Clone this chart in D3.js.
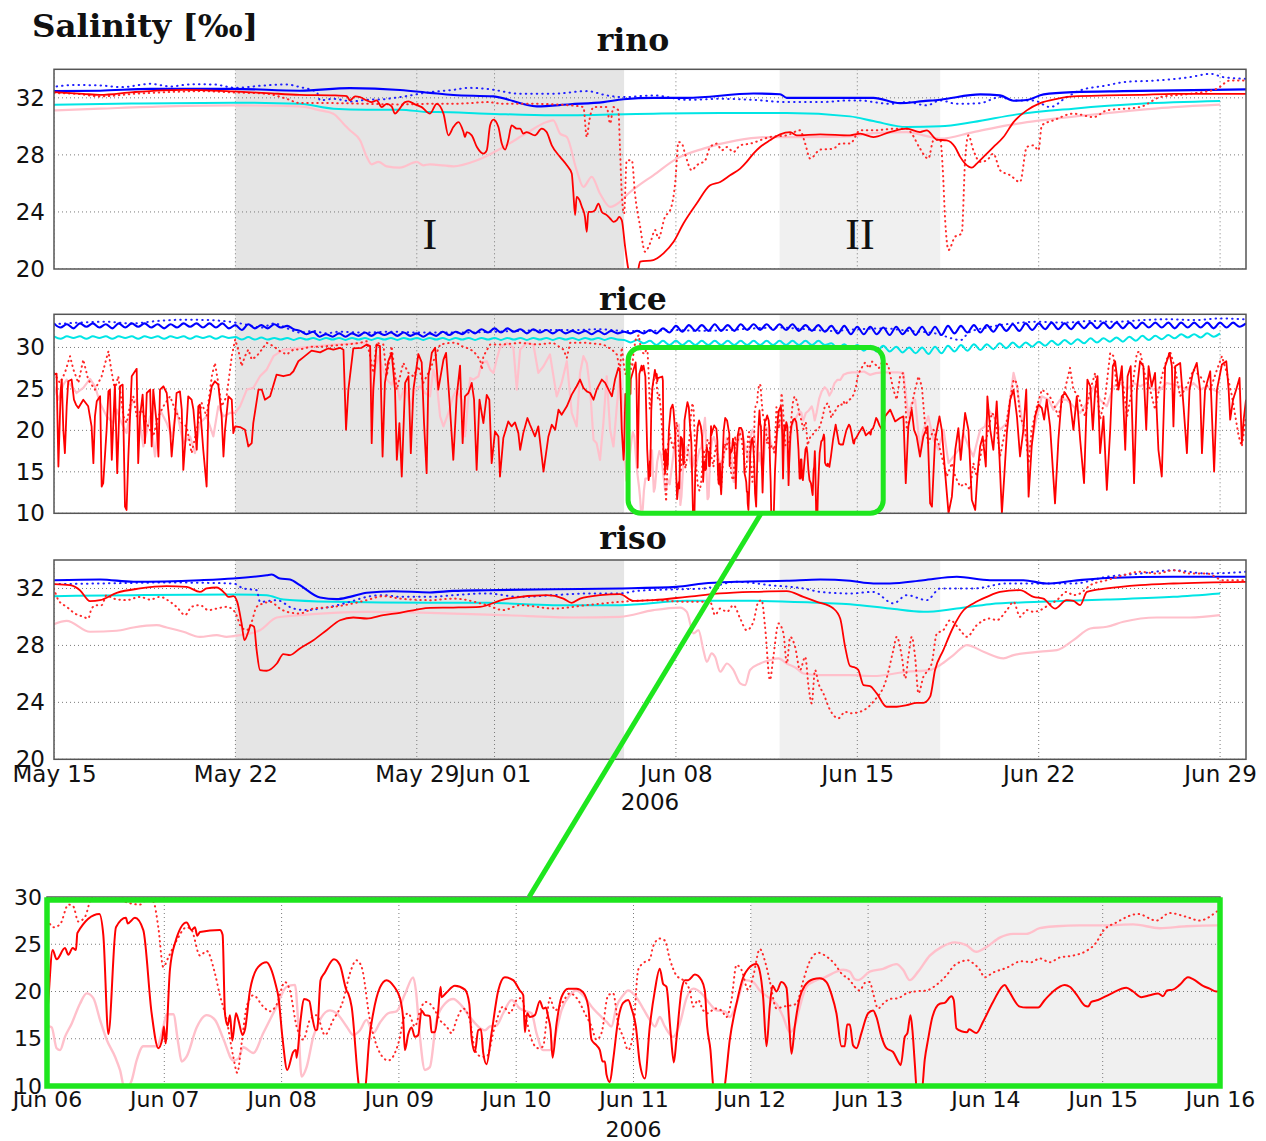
<!DOCTYPE html>
<html><head><meta charset="utf-8">
<script src="https://cdn.jsdelivr.net/npm/d3@7"></script>
<style>body{margin:0;background:#fff}svg{display:block}</style>
</head><body>
<svg id="c" width="1266" height="1141"></svg>
<script>
// ---------------- DATA (t = days since 2006-05-15 00:00 UTC) ----------------
const salTicks = [20,24,28,32];
const riceTicks = [10,15,20,25,30];
const insetTicks = [10,15,20,25,30];
const mainTickDays = [0,7,14,17,24,31,38,45];
const insetTickDays = [22,23,24,25,26,27,28,29,30,31,32];
const regionStart = [7,28];
const regionEnd = [22,34.2];
const regionLabels = ["I","II"];
const zoomT = [22,32];
const zoomV = [10,30];
const connTop = [27.29,10];
const connBottom = [26.11,30];

// rino
const rinoBlue=[[0,32.47],[1.78,32.5],[3.71,32.63],[6.92,32.63],[9.49,32.5],[11.42,32.68],[13.35,32.55],[14.51,32.35],[15.41,32.2],[16.96,32.1],[18.63,31.4],[19.92,31.55],[21.2,31.7],[21.97,31.9],[23.13,32.0],[24.42,32.0],[26.99,32.3],[28.02,32.25],[28.28,32.0],[30.72,32.0],[31.62,32.0],[32.65,31.63],[33.55,31.77],[34.2,31.87],[35.74,32.24],[36.51,32.17],[37.03,31.8],[37.54,31.85],[38.19,32.24],[39.34,32.4],[41.27,32.47],[43.2,32.52],[46,32.59]];
const rinoBlueDot=[[0.1,32.8],[0.8,32.9],[1.78,32.87],[2.6,32.75],[3.71,32.98],[4.5,32.8],[5.3,32.95],[6.15,32.94],[7.0,32.7],[8.0,32.85],[8.98,32.94],[9.49,32.75],[10.14,32.4],[10.27,31.82],[10.78,31.93],[11.5,31.75],[12.07,31.86],[12.7,31.9],[13.35,32.05],[14.51,32.4],[15.41,32.56],[16.0,32.7],[16.7,32.63],[17.99,32.29],[19.27,32.29],[20.56,32.47],[21.33,32.17],[21.97,32.05],[23.13,32.17],[24.42,31.86],[25.71,31.93],[26.99,31.86],[28.28,31.7],[29.57,31.7],[30.72,31.82],[31.11,31.82],[31.62,31.7],[32.26,31.58],[32.91,31.7],[33.68,31.47],[34.2,31.82],[34.84,31.58],[35.74,31.63],[36.51,32.05],[37.03,31.82],[37.8,31.82],[38.44,31.35],[39.08,32.05],[39.6,32.52],[40.63,32.87],[41.27,33.1],[42.56,33.22],[43.84,33.45],[44.62,33.68],[45.13,33.45],[46,33.33]];
const rinoCyan=[[0,31.52],[3,31.6],[6.92,31.66],[9.49,31.58],[10.78,31.24],[12.07,31.17],[13.35,31.17],[14.51,31.0],[14.77,31.0],[16.7,30.89],[19.27,30.77],[23.13,30.89],[25.71,30.93],[28.28,30.93],[30.72,30.7],[31.62,30.37],[32.91,29.95],[34.2,30.0],[35.48,30.3],[37.16,30.84],[39.34,31.24],[41.91,31.58],[45.0,31.77]];
const rinoRed=[[0,32.4],[1.13,32.28],[1.78,32.21],[3.06,32.4],[4.99,32.56],[6.92,32.45],[8.21,32.33],[9.49,32.21],[10.78,32.17],[11.3,32.12],[11.42,31.82],[11.62,32.1],[11.81,32.05],[12.07,31.82],[12.26,31.7],[12.45,31.82],[12.65,31.35],[12.84,31.58],[13.03,31.4],[13.16,30.89],[13.29,31.12],[13.55,31.7],[13.68,31.75],[13.93,31.54],[14.19,31.35],[14.51,30.89],[14.77,31.58],[15.03,30.89],[15.22,29.37],[15.41,29.95],[15.61,30.3],[15.8,29.6],[15.86,29.25],[15.93,29.6],[16.12,29.37],[16.32,28.55],[16.57,28.09],[16.7,28.32],[16.83,30.07],[16.96,30.47],[17.15,29.95],[17.28,28.79],[17.41,28.37],[17.53,29.02],[17.66,30.07],[17.86,29.84],[17.99,29.84],[18.11,29.49],[18.24,29.6],[18.56,29.37],[18.82,29.84],[19.01,29.6],[19.21,28.67],[19.53,27.86],[19.79,27.27],[19.98,26.69],[20.04,25.41],[20.11,23.78],[20.17,25.06],[20.28,24.83],[20.37,24.36],[20.49,23.66],[20.56,22.61],[20.62,24.0],[20.75,24.0],[20.88,24.13],[21.01,24.59],[21.14,24.0],[21.33,23.78],[21.46,23.54],[21.59,23.31],[21.72,23.43],[21.81,23.66],[21.91,23.43],[22.04,21.56],[22.17,19.93],[22.3,19.3],[22.5,19.6],[22.62,20.51],[23.13,20.63],[23.52,21.1],[23.91,21.91],[24.29,23.19],[24.8,24.59],[25.32,25.87],[25.71,26.1],[26.09,26.57],[26.48,27.04],[26.73,27.51],[26.99,28.09],[27.25,28.55],[27.63,29.02],[28.02,29.44],[28.41,29.6],[28.66,29.37],[29.57,29.44],[30.72,29.37],[31.11,29.49],[31.62,29.25],[32.26,29.6],[32.91,29.84],[33.42,29.6],[33.68,29.72],[34.07,29.07],[34.45,29.02],[34.77,28.55],[34.97,27.86],[35.16,27.39],[35.42,27.11],[35.61,27.39],[35.87,27.86],[36.25,28.55],[36.64,29.25],[37.03,30.3],[37.54,31.12],[38.06,31.63],[38.7,31.93],[39.34,32.1],[40.63,32.17],[41.91,32.21],[43.2,32.28],[46,32.28]];
const rinoRedDot=[[0,32.33],[0.87,32.28],[1.78,32.1],[3.06,32.28],[4.35,32.4],[5.63,32.47],[6.92,32.38],[8.21,32.28],[8.98,31.93],[9.49,31.63],[10.78,31.63],[12.07,31.58],[13.35,31.54],[14.51,31.58],[15.41,31.58],[16.06,31.63],[16.7,31.7],[17.34,31.58],[17.99,31.58],[18.63,31.58],[19.27,31.54],[19.92,31.47],[20.43,31.35],[20.56,29.25],[20.66,30.42],[20.82,31.35],[21.33,31.35],[21.46,30.19],[21.59,31.35],[21.78,31.12],[21.84,28.55],[21.91,25.29],[22.0,23.89],[22.1,27.62],[22.3,27.62],[22.42,25.29],[22.62,22.96],[22.81,21.21],[23.0,21.79],[23.2,22.73],[23.32,22.14],[23.58,23.66],[23.78,24.13],[23.97,25.99],[24.1,28.9],[24.23,28.79],[24.35,28.09],[24.61,26.92],[24.8,27.27],[25.13,27.62],[25.32,28.55],[25.58,28.79],[25.77,28.32],[25.97,28.55],[26.22,28.2],[26.48,28.67],[26.87,28.79],[27.63,29.25],[28.28,29.37],[28.79,29.72],[28.99,28.79],[29.18,27.74],[29.57,28.37],[30.08,28.44],[30.34,28.79],[30.72,28.79],[31.11,29.72],[31.62,29.72],[32.52,29.84],[32.91,29.84],[33.1,29.49],[33.42,28.44],[33.74,27.74],[33.94,29.02],[34.2,29.07],[34.3,26.92],[34.39,23.43],[34.52,21.33],[34.77,22.26],[35.03,22.49],[35.16,27.62],[35.29,29.37],[35.48,28.32],[35.74,27.51],[36.0,27.62],[36.25,28.09],[36.51,26.92],[36.9,26.57],[37.28,26.1],[37.54,28.55],[37.8,28.67],[37.99,28.32],[38.12,30.07],[38.57,30.42],[39.34,30.89],[40.12,30.65],[40.63,31.12],[41.91,31.35],[42.69,32.05],[43.84,32.28],[44.87,32.63],[45.39,33.22],[46,33.22]];
const rinoPink=[[0,31.12],[1.78,31.24],[4.35,31.4],[6.92,31.47],[9.49,31.4],[10.27,31.12],[10.78,30.89],[11.17,30.19],[11.42,29.72],[11.81,29.02],[12.07,27.86],[12.26,27.34],[12.52,27.51],[12.84,27.2],[13.35,27.11],[14.0,27.51],[14.25,27.27],[14.51,27.34],[14.77,27.3],[15.41,27.2],[16.32,27.62],[17.34,28.55],[18.24,29.53],[19.01,30.3],[19.27,30.42],[19.53,29.49],[19.79,29.25],[20.17,26.92],[20.43,25.76],[20.75,26.46],[21.07,25.29],[21.46,24.36],[21.84,24.71],[22.1,25.18],[22.49,25.76],[23.13,26.57],[24.03,27.74],[25.06,28.44],[26.35,29.02],[27.63,29.25],[28.92,29.25],[30.72,29.3],[31.62,29.53],[32.91,29.6],[33.55,29.37],[34.2,29.14],[35.48,29.6],[36.77,30.07],[38.06,30.42],[40.63,30.93],[43.2,31.35],[45.0,31.52]];

// rice (blue/cyan sampled every 6 h from t=0)
const riceSampleStep = 0.25;
const riceBlue=[32.9,32.4,32.8,32.3, 32.9,32.5,32.9,32.4, 32.8,32.3,32.9,32.4, 32.9,32.5,32.9,32.4, 32.8,32.3,32.8,32.4, 32.9,32.5,32.9,32.4, 32.9,32.4,32.9,32.3,
 32.7,32.1,32.8,32.3, 32.7,32.3,32.8,32.4, 32.6,32.2,32.0,31.6, 31.9,31.3,31.6,31.3, 31.7,31.3,31.7,31.4, 31.8,31.4,31.8,31.5, 31.8,31.4,31.8,31.4,
 31.7,31.3,31.7,31.4, 31.9,31.5,31.9,31.6, 32.1,31.7,32.2,31.8, 32.3,31.8,32.3,31.9, 32.2,31.7,32.2,31.8, 32.1,31.7,32.1,31.7, 32.0,31.7,32.0,31.6,
 32.0,31.6,32.0,31.7, 31.9,31.7,32.0,31.7, 32.1,31.7,32.3,31.8, 32.6,31.9,32.7,32.0, 32.7,32.0,32.8,32.0, 32.7,32.0,32.8,32.1, 32.8,32.1,32.8,32.1,
 32.8,32.1,32.8,32.0, 32.7,32.0,32.7,31.9, 32.6,31.7,32.6,31.6, 32.5,31.6,32.5,31.6, 32.4,31.5,32.5,31.6, 32.4,31.5,32.5,31.5, 32.5,31.5,32.6,31.7,
 32.6,31.8,32.7,31.8, 32.7,31.9,32.8,32.0, 32.8,32.0,32.9,32.1, 32.9,32.2,33.0,32.2, 32.9,32.2,33.0,32.3, 33.0,32.3,33.0,32.3, 33.0,32.3,33.0,32.3,
 33.0,32.4,33.0,32.4, 33.0,32.3,33.0,32.4, 33.0,32.4,33.0,32.3, 33.0,32.4,33.0,32.5, 32.9];
const riceCyan=[31.35,31.05,31.35,31.15, 31.35,31.05,31.35,31.15, 31.35,31.05,31.35,31.15, 31.35,31.05,31.35,31.15, 31.35,31.05,31.35,31.15, 31.35,31.05,31.35,31.15, 31.35,31.05,31.35,31.15,
 31.25,30.95,31.25,30.95, 31.2,30.95,31.15,30.95, 31.15,30.9,31.15,30.95,
 31.15,30.9,31.15,30.95, 31.15,30.9,31.15,30.95, 31.15,30.9,31.15,30.95, 31.15,30.9,31.15,30.95, 31.15,30.9,31.15,30.95, 31.15,30.9,31.15,30.95,
 31.15,30.9,31.15,30.95, 31.15,30.9,31.15,30.95, 31.15,30.9,31.15,30.95, 31.15,30.9,31.15,30.95, 31.15,30.9,31.15,30.95, 31.15,30.9,31.15,30.95,
 30.9,30.6,30.9,30.5,
 30.8,30.3,30.8,30.3, 30.8,30.3,30.8,30.3, 30.8,30.3,30.8,30.3, 30.8,30.3,30.8,30.3, 30.8,30.3,30.8,30.3, 30.8,30.3,30.8,30.3, 30.8,30.3,30.8,30.3,
 30.5,29.9,30.4,29.8, 30.3,29.6,30.2,29.5, 30.2,29.5,30.1,29.4, 30.0,29.3,30.0,29.2, 30.1,29.3,30.2,29.5, 30.3,29.6,30.4,29.7, 30.4,29.8,30.5,29.9,
 30.6,30.0,30.6,30.1, 30.7,30.2,30.8,30.3, 30.9,30.4,31.0,30.5, 31.1,30.6,31.1,30.7, 31.2,30.7,31.3,30.8, 31.4,30.9,31.4,31.0, 31.5,31.1,31.6,31.2,
 31.6,31.2,31.7,31.3, 31.7];
const riceBlueDot=[[0,32.8],[1,33.0],[2,33.1],[3,32.9],[4,33.2],[5,33.35],[6,33.3],[7,33.0],[7.5,32.7],[8,32.4],[8.5,32.9],[9,32.3],[9.5,31.8],[10,32.0],[10.5,31.7],[11,31.9],[12,31.8],[13,31.9],[14,31.8],[15,31.8],[16,31.8],[17,31.9],[18,32.0],[19,32.1],[20,32.1],[21,32.2],[22,32.0],[23,32.0],[24,32.1],[25,32.0],[26,32.1],[27,32.3],[28,32.4],[29,32.2],[30,32.0],[31,32.2],[32,32.3],[33,32.0],[34,31.7],[35,30.9],[35.3,31.8],[36,32.4],[37,32.9],[38,33.1],[39,33.0],[40,33.2],[41,33.1],[42,33.3],[43,33.4],[44,33.3],[45,33.5],[46,33.4]];

const riceRedA=[[0,26.73],[0.10,26.85],[0.17,15.64],[0.26,24.91],[0.30,26.13],[0.36,20.07],[0.42,17.25],[0.49,22.9],[0.55,25.92],[0.68,26.13],[0.77,23.7],[0.85,23.1],[0.94,22.7],[1.13,23.7],[1.32,22.9],[1.45,20.48],[1.52,16.05],[1.58,21.69],[1.65,23.5],[1.78,24.11],[1.84,13.22],[1.90,13.63],[2.03,20.07],[2.10,24.71],[2.16,24.91],[2.23,16.45],[2.35,25.52],[2.44,14.84],[2.55,25.32],[2.65,25.52],[2.74,10.8],[2.80,10.4],[2.87,16.85],[3.00,26.53],[3.19,27.42],[3.25,16.05],[3.32,21.69],[3.42,24.31],[3.51,18.46],[3.58,24.51],[3.71,24.91],[3.77,18.06],[3.83,24.91],[3.96,20.88],[4.03,16.85],[4.09,24.91],[4.22,25.32],[4.35,24.51],[4.48,20.07],[4.54,16.85],[4.67,21.69],[4.73,24.51],[4.86,24.71],[4.93,22.5],[4.99,15.24],[5.12,20.88],[5.18,24.11],[5.31,23.7],[5.38,22.5],[5.51,17.66],[5.57,22.9],[5.63,23.1],[5.76,17.66],[5.89,13.22],[5.96,22.9],[6.09,25.32],[6.21,25.92],[6.34,25.52],[6.47,21.69],[6.54,16.85],[6.60,20.07],[6.73,24.11],[6.86,23.7],[6.92,19.67],[6.99,20.48],[7.18,20.4],[7.37,20.07],[7.50,18.06],[7.63,18.46],[7.69,20.88],[7.89,24.91],[8.02,24.91],[8.14,23.7],[8.34,24.11],[8.59,26.73],[8.85,26.53],[9.11,26.73],[9.24,27.13],[9.43,28.34],[9.62,28.81],[9.94,29.62],[10.27,29.41],[10.59,29.9],[10.78,29.73],[11.04,29.96],[11.17,29.73],[11.27,20.07],[11.36,24.91],[11.55,29.9],[11.87,29.96],[12.07,30.36],[12.20,30.16],[12.26,18.46],[12.32,24.91],[12.45,30.36],[12.58,30.16],[12.68,16.85],[12.77,25.72],[12.90,28.34],[13.03,29.35],[13.16,24.91],[13.23,16.45],[13.33,20.88],[13.42,14.43],[13.55,25.72],[13.68,26.53],[13.77,17.25],[13.87,24.91],[14.06,29.21],[14.19,28.21],[14.28,20.88],[14.38,14.84],[14.45,26.53],[14.51,27.82],
[14.58,29.35],[14.71,29.96],[14.83,24.91],[15.03,28.54],[15.13,29.35],[15.26,23.7],[15.41,16.45],[15.54,24.11],[15.67,27.82],[15.77,18.46],[15.86,24.11],[15.99,24.51],[16.12,25.72],[16.21,23.7],[16.31,15.24],[16.42,23.7],[16.57,20.88],[16.7,24.27],[16.8,23.7],[16.89,16.05],[17.02,19.87],[17.15,19.27],[17.21,14.43],[17.34,19.07],[17.53,21.08],[17.66,20.48],[17.79,20.97],[17.92,19.67],[17.99,17.66],[18.11,19.67],[18.27,21.49],[18.37,20.68],[18.56,19.27],[18.69,20.48],[18.89,15.04],[19.08,19.27],[19.21,20.68],[19.34,20.07],[19.47,22.5],[19.59,21.89],[19.79,22.9],[19.98,24.31],[20.17,25.32],[20.3,26.13],[20.43,25.12],[20.56,24.71],[20.69,24.51],[20.82,23.7],[20.94,24.91],[21.14,26.13],[21.27,25.72],[21.4,24.91],[21.53,24.11],[21.65,26.13],[21.78,27.54],[21.84,27.13],[21.91,20.07],[21.98,16.45]];
const riceRedZoom=[[22.0,17.5],[22.048,24.4],[22.082,23.4],[22.153,24.6],[22.182,23.9],[22.219,24.6],[22.247,24.4],[22.259,26.2],[22.446,28.2],[22.48,26],[22.523,15.5],[22.588,26.8],[22.673,27.8],[22.688,27.2],[22.75,27.8],[22.821,26.5],[22.892,17.7],[22.949,14.0],[22.983,15.0],[22.997,16.3],[23.011,14.5],[23.048,22.3],[23.091,25.1],[23.19,27.3],[23.233,26.5],[23.261,26.8],[23.281,25.9],[23.304,26.3],[23.474,26.5],[23.497,26.0],[23.517,17.7],[23.54,16.4],[23.56,17.5],[23.58,14.8],[23.611,17.7],[23.631,17.0],[23.668,15.4],[23.688,16.0],[23.73,20.1],[23.801,22.6],[23.872,23.1],[23.906,22.5],[23.952,20.6],[23.972,19.5],[24.009,14.9],[24.048,11.7],[24.099,13.6],[24.122,13.8],[24.128,13.0],[24.162,17.0],[24.19,19.2],[24.236,19.0],[24.261,17.3],[24.29,15.9],[24.304,16.0],[24.332,21.2],[24.369,22.0],[24.446,23.4],[24.497,22.8],[24.554,20.1],[24.568,19.8],[24.597,18.4],[24.659,10.0],[24.688,8.5],[24.716,10.0],[24.747,14.9],[24.781,17.7],[24.838,20.4],[24.895,21.2],[24.96,20.5],[25.009,19.3],[25.037,17.0],[25.051,13.8],[25.08,15.5],[25.108,16.2],[25.136,15.2],[25.165,15.4],[25.193,18.0],[25.222,17.5],[25.264,17.4],
[25.278,15.7],[25.307,15.7],[25.335,18.0],[25.355,20.5],[25.364,19.4],[25.406,19.9],[25.477,20.6],[25.563,20.2],[25.6,18.7],[25.619,15.2],[25.648,13.6],[25.676,15.9],[25.699,16.0],[25.719,13.5],[25.747,12.3],[25.79,15.6],[25.847,20.1],[25.903,21.5],[25.974,21.2],[26.031,20.1],[26.06,19.6],[26.074,15.7],[26.094,17.7],[26.116,17.3],[26.159,17.5],[26.202,19.0],[26.23,18.2],[26.253,18.3],[26.273,17.3],[26.293,16.0],[26.31,13.0],[26.344,16.6],[26.386,19.4],[26.443,20.3],[26.514,20.3],[26.571,19.9],[26.614,18.4],[26.642,14.9],[26.685,14.3],[26.713,13.8],[26.736,12.6],[26.756,12.6],[26.77,11.2],[26.798,10.4],[26.827,12.8],[26.869,17.0],[26.912,18.8],[26.955,19.1],[26.983,18.2],[27.02,16.3],[27.054,12.4],[27.097,10.8],[27.139,16.3],[27.182,20.1],[27.224,22.4],[27.253,20.8],[27.281,20.5],[27.315,15.9],[27.344,12.5],[27.366,14.9],[27.409,20.1],[27.438,21.2],[27.466,21.2],[27.523,21.8],[27.58,21.2],[27.608,20.1],[27.628,16.3],[27.656,13.8],[27.679,10.0],[27.722,7.5],[27.778,10.0],[27.821,14.9],[27.878,18.7],[27.935,21.5],[27.977,22.4],[28.048,22.9],[28.077,22.1],[28.105,19.4],[28.134,14.2],[28.162,18.4],[28.185,20.6],[28.219,20.0],[28.261,21.0],[28.304,20.4],[28.327,16.6],[28.347,13.4],[28.375,16.3],[28.418,19.4],[28.46,20.6],[28.531,21.3],[28.588,21.4],[28.645,21.0],[28.688,19.7],[28.73,17.7],[28.773,14.2],[28.801,14.2],[28.821,16.5],[28.844,16.5],
[28.872,14.3],[28.901,14.0],[28.943,15.6],[29.0,17.7],[29.043,18.0],[29.071,17.3],[29.114,15.2],[29.156,14.0],[29.213,13.6],[29.256,12.6],[29.278,12.2],[29.313,15.2],[29.335,15.6],[29.361,17.5],[29.378,15.9],[29.398,12.4],[29.418,9.2],[29.455,9.2],[29.483,12.8],[29.511,14.9],[29.548,17.3],[29.611,18.7],[29.653,18.8],[29.71,19.5],[29.73,19.1],[29.753,16.1],[29.795,15.8],[29.844,15.7],[29.861,16.0],[29.923,15.6],[29.98,16.8],[30.065,18.9],[30.165,20.7],[30.193,20.2],[30.293,18.4],[30.349,18.3],[30.449,18.3],[30.506,19.1],[30.577,20.0],[30.676,20.7],[30.719,20.5],[30.776,19.7],[30.847,18.5],[30.875,18.4],[30.903,18.9],[30.96,19.1],[31.06,19.7],[31.202,20.4],[31.259,20.0],[31.33,19.4],[31.401,19.6],[31.472,19.8],[31.514,19.5],[31.548,20.1],[31.599,20.2],[31.656,20.7],[31.727,21.5],[31.77,21.3],[31.855,20.6],[31.912,20.3],[31.969,20.0],[32.0,20.1]];
const riceRedB=[[32.07,21.69],[32.27,22.5],[32.46,21.08],[32.65,21.49],[32.78,21.69],[32.87,13.63],[32.97,20.48],[33.1,22.5],[33.19,20.07],[33.29,19.27],[33.42,16.85],[33.55,19.27],[33.71,20.48],[33.81,11.2],[33.88,10.8],[34.0,18.87],[34.17,21.69],[34.26,20.07],[34.39,14.84],[34.52,10.0],[34.65,12.01],[34.78,17.66],[34.9,20.28],[34.99,16.45],[35.16,22.1],[35.29,20.07],[35.42,11.61],[35.55,10.4],[35.64,14.84],[35.74,18.06],[35.84,19.27],[35.96,15.64],[36.02,24.11],[36.13,20.07],[36.25,17.66],[36.38,23.5],[36.49,16.45],[36.58,10.0],[36.67,14.43],[36.77,19.67],[36.9,23.7],[37.03,24.91],[37.16,21.69],[37.28,16.85],[37.41,20.07],[37.52,24.91],[37.61,12.01],[37.73,18.06],[37.86,21.69],[37.99,23.1],[38.12,22.7],[38.21,21.29],[38.31,23.7],[38.44,20.48],[38.63,11.2],[38.76,18.87],[38.89,24.11],[39.02,24.51],[39.21,23.5],[39.34,20.07],[39.47,24.11],[39.6,18.87],[39.75,13.63],[39.88,26.13],[39.99,25.32],[40.09,20.07],[40.18,24.91],[40.27,26.53],[40.37,17.25],[40.5,21.69],[40.63,12.82],[40.76,20.07],[40.86,27.74],[40.95,28.34],[41.08,24.91],[41.21,27.74],[41.34,17.66],[41.43,26.53],[41.55,27.74],[41.68,13.63],[41.79,24.91],[41.91,28.34],[42.04,27.74],[42.15,20.07],[42.24,27.74],[42.36,25.32],[42.49,26.93],[42.62,17.66],[42.75,14.43],[42.88,27.74],[43.05,29.35],[43.14,27.74],[43.2,20.48],[43.27,27.74],[43.46,28.14],[43.59,22.9],[43.72,17.25],[43.82,24.91],[43.95,26.93],[44.1,28.14],[44.23,24.91],[44.3,17.25],[44.42,24.91],[44.62,27.13],[44.77,15.04],[44.88,24.91],[45.07,27.94],[45.24,28.34],[45.33,24.91],[45.39,21.29],[45.5,23.7],[45.62,24.91],[45.75,26.33],[45.84,18.46],[45.91,21.29],[46.0,23.7]];

const riceDotA=[[0,26.93],[0.23,25.72],[0.42,26.93],[0.62,28.95],[0.75,27.33],[0.94,25.72],[1.13,28.54],[1.32,26.13],[1.58,24.91],[1.84,26.53],[2.1,29.55],[2.23,26.93],[2.35,24.91],[2.48,26.53],[2.68,21.69],[2.8,20.88],[2.93,22.9],[3.06,24.11],[3.19,21.69],[3.38,22.5],[3.58,20.88],[3.83,19.27],[4.03,21.69],[4.22,22.9],[4.48,24.11],[4.67,22.5],[4.93,20.88],[5.12,20.48],[5.31,17.25],[5.51,20.07],[5.7,23.3],[5.89,21.69],[6.09,26.53],[6.21,28.14],[6.34,25.72],[6.47,22.9],[6.66,24.11],[6.86,28.95],[6.99,30.96],[7.11,29.75],[7.24,27.74],[7.37,28.95],[7.5,29.75],[7.63,28.54],[7.82,28.95],[8.02,29.75],[8.21,30.56],[8.47,30.16],[8.72,29.55],[8.98,29.15],[9.24,29.75],[9.49,29.75],[9.88,30.08],[10.27,30.08],[10.78,30.24],[11.3,30.36],[11.81,30.56],[12.07,30.76],[12.2,28.95],[12.32,26.93],[12.45,30.56],[12.71,30.36],[12.84,26.53],[13.03,30.16],[13.23,24.91],[13.48,28.14],[13.68,26.93],[13.87,26.53],[14.06,27.74],[14.25,25.72],[14.51,27.33],[14.9,30.36],[15.28,30.56],[15.54,30.56],[15.73,30.16],[15.93,29.96],[16.19,29.55],[16.44,28.54],[16.51,27.33],[16.57,28.95],[16.83,30.36],[17.34,30.36],[17.99,30.56],[18.63,30.36],[19.27,30.56],[19.66,29.75],[19.79,28.75],[19.92,30.56],[20.56,30.56],[21.2,30.36],[21.53,29.75],[21.72,29.15],[21.84,27.33],[21.91,30.0]];
const riceDotZoom=[[22.0,27.7],[22.054,26.8],[22.111,27.1],[22.182,29.2],[22.224,29.0],[22.267,27.4],[22.324,27.9],[22.366,29.5],[22.452,31.0],[22.565,31.5],[22.665,29.5],[22.793,29.2],[22.849,29.7],[22.906,29.5],[22.949,26.8],[22.991,22.6],[23.034,23.6],[23.105,25.4],[23.19,26.8],[23.233,26.5],[23.304,23.8],[23.361,24.3],[23.432,21.9],[23.474,19.6],[23.531,17.0],[23.588,13.1],[23.622,11.4],[23.659,14.5],[23.702,18.4],[23.759,19.6],[23.844,18.4],[23.901,17.9],[23.957,18.6],[24.028,21.0],[24.071,20.1],[24.128,16.3],[24.185,14.9],[24.241,17.0],[24.298,17.5],[24.369,15.4],[24.44,17.0],[24.526,19.1],[24.582,21.9],[24.639,23.3],[24.682,22.6],[24.753,17.0],[24.838,13.5],[24.909,12.7],[24.966,13.5],[25.009,15.2],[25.037,17.0],[25.08,17.7],[25.136,16.3],[25.179,17.9],[25.222,18.9],[25.264,18.7],
[25.307,18.0],[25.349,17.0],[25.406,16.3],[25.449,15.6],[25.491,17.0],[25.548,18.2],[25.605,17.0],[25.648,13.8],[25.705,13.1],[25.747,13.1],[25.818,16.3],[25.889,18.4],[25.946,17.7],[26.003,19.1],[26.045,19.3],[26.088,17.0],[26.131,14.9],[26.188,14.0],[26.23,14.2],[26.259,17.0],[26.287,19.3],[26.33,18.0],[26.386,18.7],[26.457,19.8],[26.528,19.1],[26.585,17.7],[26.642,16.3],[26.685,14.9],[26.727,15.6],[26.784,19.6],[26.827,19.8],[26.869,16.6],[26.912,15.2],[26.955,13.8],[26.997,15.6],[27.04,22.3],[27.082,23.0],[27.139,23.4],[27.168,24.8],[27.224,25.6],[27.267,25.4],[27.31,23.4],[27.366,21.7],[27.423,21.2],[27.48,20.1],[27.509,18.4],[27.551,19.1],[27.594,18.0],[27.636,17.7],[27.693,18.2],[27.75,18.0],[27.793,17.3],[27.835,19.1],[27.878,22.8],[27.92,22.3],[27.977,20.2],[28.02,21.6],[28.077,24.5],[28.119,23.3],[28.162,21.1],[28.219,18.2],[28.276,18.4],[28.332,18.5],[28.389,18.7],[28.446,21.1],[28.503,23.2],[28.574,24.1],[28.645,23.7],[28.716,22.9],[28.773,21.9],[28.844,21.2],
[28.886,20.5],[28.929,20.1],[28.972,20.9],[29.014,21.0],[29.043,19.8],[29.085,18.2],[29.128,18.7],[29.185,19.2],[29.256,19.3],[29.327,19.8],[29.398,20.0],[29.497,20.1],[29.582,20.7],[29.668,21.7],[29.739,22.8],[29.852,23.3],[29.895,23.0],[29.952,22.3],[29.994,21.5],[30.065,22.0],[30.179,22.5],[30.307,23.2],[30.392,23.1],[30.463,23.5],[30.548,23.1],[30.634,23.6],[30.747,23.8],[30.861,24.3],[30.946,25.2],[31.003,26.4],[31.116,27.3],[31.301,28.2],[31.457,27.5],[31.571,28.3],[31.713,27.9],[31.827,27.5],[31.912,27.9],[31.983,28.5]];
const riceDotB=[[32.02,28.54],[32.2,27.74],[32.39,24.91],[32.52,23.7],[32.65,26.53],[32.77,26.93],[32.85,23.7],[32.91,20.07],[33.04,21.69],[33.17,24.11],[33.36,26.53],[33.49,25.32],[33.62,20.48],[33.74,18.46],[33.94,20.07],[34.13,18.46],[34.26,16.85],[34.45,14.43],[34.65,16.05],[34.78,14.43],[34.97,13.22],[35.16,13.63],[35.35,12.82],[35.48,16.05],[35.61,14.43],[35.8,17.66],[36.0,19.27],[36.19,22.1],[36.32,21.69],[36.51,16.85],[36.71,20.07],[36.9,23.7],[37.03,26.13],[37.16,25.72],[37.28,21.69],[37.48,20.07],[37.61,16.05],[37.73,20.07],[37.93,22.9],[38.12,24.91],[38.31,24.51],[38.51,23.7],[38.76,21.69],[38.95,24.11],[39.21,27.54],[39.34,24.91],[39.53,24.11],[39.79,21.69],[39.99,24.91],[40.18,26.93],[40.37,21.29],[40.57,24.11],[40.76,29.35],[40.89,28.95],[41.02,24.91],[41.21,26.53],[41.41,21.69],[41.6,24.91],[41.79,29.35],[41.91,29.55],[42.11,26.53],[42.3,24.91],[42.49,22.5],[42.75,26.53],[42.94,28.54],[43.07,29.55],[43.27,27.33],[43.46,24.11],[43.72,25.32],[43.97,27.33],[44.23,26.53],[44.42,25.72],[44.62,24.91],[44.88,27.33],[45.07,28.95],[45.26,26.93],[45.46,24.11],[45.72,19.27],[45.84,18.06],[46.0,21.69]];

const ricePinkA=[[0,25.32],[0.17,23.7],[0.36,25.52],[0.49,26.13],[0.68,25.32],[0.87,24.51],[1.13,25.12],[1.39,26.21],[1.58,25.32],[1.78,23.3],[2.03,21.69],[2.29,20.88],[2.42,22.5],[2.61,20.88],[2.8,19.67],[3.0,23.3],[3.19,23.7],[3.45,18.06],[3.71,21.69],[3.9,16.85],[4.09,22.5],[4.35,20.88],[4.54,19.27],[4.73,22.5],[4.99,18.46],[5.25,19.27],[5.44,17.25],[5.63,20.88],[5.89,21.69],[6.15,19.27],[6.34,22.9],[6.54,21.69],[6.79,22.1],[6.99,22.1],[7.18,22.9],[7.44,24.91],[7.69,25.12],[7.95,26.53],[8.21,27.33],[8.47,28.95],[8.85,29.75],[9.49,29.96],[10.78,30.36],[12.07,30.56],[12.2,30.16],[12.26,21.69],[12.39,27.33],[12.52,28.95],[12.84,26.13],[13.03,25.52],[13.16,26.53],[13.35,23.7],[13.55,25.32],[13.74,22.9],[13.93,24.91],[14.13,25.32],[14.32,24.51],[14.51,24.11],[14.64,27.33],[14.77,25.72],[14.9,21.69],[15.03,20.48],[15.22,22.1],[15.41,24.11],[15.54,24.91],[15.73,23.7],[15.86,19.27],[16.06,26.33],[16.18,26.13],[16.38,26.53],[16.51,28.14],[16.7,28.34],[16.83,27.33],[16.96,26.93],[17.08,28.54],[17.21,29.96],[17.47,30.56],[17.73,29.96],[17.86,24.91],[17.99,29.75],[18.24,30.56],[18.5,30.36],[18.69,26.93],[18.89,27.74],[19.14,29.15],[19.4,24.11],[19.59,25.72],[19.79,28.34],[19.98,22.1],[20.17,20.48],[20.3,26.93],[20.43,28.95],[20.56,28.14],[20.69,24.91],[20.82,18.87],[20.94,18.46],[21.07,16.45],[21.2,20.88],[21.33,26.53],[21.46,20.07],[21.59,18.06],[21.72,22.9],[21.84,26.93],[21.97,21.29]];
const ricePinkZoom=[[22.0,16.4],[22.04,16.2],[22.082,14.0],[22.111,13.8],[22.153,15.2],[22.21,16.6],[22.281,18.7],[22.338,19.8],[22.395,19.3],[22.452,17.0],[22.509,14.9],[22.58,13.1],[22.622,11.7],[22.665,9.6],[22.722,10.6],[22.764,12.7],[22.821,14.2],[22.935,14.2],[22.991,16.2],[23.02,17.6],[23.077,17.6],[23.119,14.5],[23.148,12.6],[23.19,13.1],[23.276,16.2],[23.361,17.5],[23.432,17.0],[23.503,15.0],[23.588,12.7],[23.631,12.9],[23.673,14.1],[23.759,13.5],[23.844,15.6],[23.957,18.4],[24.043,20.5],[24.114,20.7],[24.142,16.6],[24.17,11.0],[24.213,12.0],[24.27,15.2],[24.327,17.0],[24.412,18.0],[24.469,17.7],[24.554,16.3],[24.611,15.4],[24.668,15.9],[24.724,17.0],[24.781,15.6],[24.838,16.7],[24.909,17.7],[24.98,17.9],[25.051,19.7],[25.122,21.5],[25.145,20.1],[25.179,15.2],[25.222,11.7],[25.264,12.0],
[25.321,17.0],[25.392,18.7],[25.463,19.2],[25.534,18.5],[25.605,17.3],[25.676,16.3],[25.733,15.9],[25.776,16.3],[25.832,16.4],[25.889,17.7],[25.96,19.1],[26.031,18.2],[26.088,17.9],[26.131,17.7],[26.173,15.6],[26.23,13.8],[26.287,13.8],[26.33,15.2],[26.386,18.0],[26.457,19.6],[26.514,20.1],[26.571,19.6],[26.656,18.2],[26.727,17.3],[26.77,16.8],[26.812,16.3],[26.855,18.4],[26.912,19.6],[26.955,20.1],[27.011,19.6],[27.082,18.2],[27.139,17.0],[27.182,16.3],[27.224,17.3],[27.267,16.3],[27.338,15.2],[27.395,16.6],[27.452,19.3],[27.509,20.3],[27.58,19.8],[27.651,18.7],[27.707,18.0],[27.778,17.9],[27.821,17.3],[27.878,18.7],[27.949,21.2],[28.02,21.0],[28.077,20.1],[28.148,19.4],[28.219,18.7],[28.276,17.3],[28.332,15.7],[28.375,16.3],[28.418,18.4],[28.474,20.5],[28.56,21.2],[28.631,21.5],[28.73,22.1],[28.787,22.3],[28.844,22.1],
[28.886,21.3],[28.915,21.2],[29.014,22.1],[29.128,22.4],[29.241,22.9],[29.298,22.3],[29.355,21.2],[29.426,22.1],[29.526,23.8],[29.625,24.7],[29.739,25.2],[29.838,24.9],[29.923,24.2],[30.009,24.7],[30.122,25.7],[30.236,26.1],[30.349,26.1],[30.463,26.7],[30.605,26.9],[30.804,27.0],[31.031,27.0],[31.259,27.1],[31.486,26.7],[31.713,26.9],[31.983,27.0]];
const ricePinkB=[[32.53,27.01],[32.78,26.93],[32.85,24.91],[32.97,21.69],[33.1,23.3],[33.23,23.7],[33.42,17.66],[33.55,20.07],[33.74,21.69],[33.94,18.87],[34.13,17.66],[34.33,20.07],[34.52,16.05],[34.71,16.85],[34.9,17.66],[35.1,19.67],[35.29,18.06],[35.48,16.85],[35.74,20.07],[35.93,20.48],[36.06,22.5],[36.25,21.69],[36.51,20.07],[36.77,20.88],[37.03,26.93],[37.16,25.32],[37.41,20.07],[37.67,17.66],[37.93,21.69],[38.12,24.11],[38.38,23.7],[38.57,22.5],[38.83,23.7],[39.08,23.7],[39.34,22.9],[39.6,22.1],[39.86,23.3],[40.12,25.32],[40.37,23.7],[40.63,22.9],[40.89,25.32],[41.14,25.72],[41.4,24.91],[41.66,25.72],[41.91,25.32],[42.17,25.72],[42.43,24.91],[42.69,24.91],[42.94,25.72],[43.2,25.52],[43.46,25.32],[43.72,24.91],[43.97,25.72],[44.23,24.91],[44.49,25.32],[44.75,24.91],[45.0,24.51]];

// riso
const risoBlue=[[0,32.58],[1.78,32.63],[3.06,32.47],[5.63,32.58],[6.92,32.7],[8.21,32.93],[8.4,32.98],[8.72,32.7],[9.11,32.63],[9.49,32.23],[10.27,31.36],[10.91,31.25],[11.42,31.41],[12.07,31.7],[13.1,31.81],[14.51,31.72],[15.41,31.83],[16.7,31.88],[19.27,31.95],[21.84,32.0],[24.03,32.11],[25.06,32.35],[26.35,32.47],[28.28,32.54],[29.57,32.63],[30.72,32.54],[31.62,32.35],[32.26,32.35],[33.55,32.58],[34.84,32.82],[36.12,32.58],[37.41,32.58],[38.31,32.35],[39.34,32.54],[40.63,32.74],[43.2,32.82],[46,32.82]];
const risoBlueDot=[[0,32.3],[1.78,32.35],[4.35,32.42],[6.92,32.35],[7.31,32.0],[7.82,31.88],[7.95,31.06],[8.6,31.18],[9.24,30.59],[9.75,30.48],[10.27,30.59],[10.78,30.76],[11.42,31.06],[12.07,31.41],[12.71,31.53],[13.35,31.41],[14.51,31.41],[15.41,31.53],[16.7,31.65],[17.99,31.41],[19.27,31.53],[20.56,31.65],[21.84,31.65],[22.49,31.83],[23.78,31.93],[25.06,32.0],[26.35,32.47],[27.63,32.23],[28.92,32.0],[29.57,31.76],[30.72,31.65],[31.62,31.76],[32.39,30.95],[32.91,31.53],[33.68,31.18],[34.2,32.0],[35.48,32.0],[36.77,32.35],[38.06,32.35],[39.34,32.35],[40.63,32.82],[41.91,33.05],[43.2,33.28],[44.49,33.05],[46,33.17]];
const risoCyan=[[0,31.46],[3.06,31.53],[6.92,31.57],[8.21,31.53],[8.85,31.22],[10.78,31.06],[14.51,30.99],[16.7,30.99],[19.27,30.83],[21.84,30.83],[24.42,31.13],[26.99,31.13],[29.57,30.99],[30.72,30.9],[32.26,30.59],[33.55,30.36],[34.84,30.59],[36.12,30.9],[38.06,31.06],[40.63,31.22],[43.2,31.41],[45.0,31.65]];
const risoRed=[[0,32.3],[0.62,32.23],[1.0,31.88],[1.39,31.11],[1.78,31.18],[2.42,31.69],[3.32,32.0],[4.35,32.16],[5.12,32.11],[5.63,31.76],[5.89,32.0],[6.28,32.07],[6.6,31.65],[6.73,31.41],[6.92,31.46],[7.07,31.06],[7.24,29.54],[7.35,28.37],[7.5,28.96],[7.59,29.42],[7.72,29.31],[7.82,27.67],[7.95,26.27],[8.21,26.22],[8.6,26.73],[8.85,27.39],[9.11,27.32],[9.49,27.79],[10.01,28.37],[10.52,29.07],[11.04,29.77],[11.55,29.96],[12.07,29.89],[12.71,30.13],[13.35,30.29],[14.0,30.52],[14.51,30.64],[15.41,30.66],[16.44,30.71],[17.34,31.22],[19.01,31.53],[19.66,31.29],[19.98,30.99],[20.3,31.29],[21.07,31.53],[21.84,31.6],[22.36,31.13],[23.13,31.18],[24.42,31.41],[25.71,31.65],[26.99,31.76],[28.28,31.81],[28.92,31.41],[29.44,31.06],[30.08,30.59],[30.34,29.89],[30.53,27.9],[30.72,26.55],[30.91,26.45],[31.04,26.27],[31.24,25.21],[31.49,25.14],[31.75,24.63],[32.13,23.69],[32.52,23.69],[32.91,23.81],[33.3,23.97],[33.55,23.97],[33.81,24.4],[34.0,26.27],[34.32,27.67],[34.71,29.31],[35.1,30.47],[35.48,30.95],[36.0,31.41],[36.51,31.76],[37.28,31.88],[37.8,31.41],[38.18,31.29],[38.63,30.59],[39.08,31.18],[39.34,31.13],[39.6,30.83],[39.86,31.76],[40.63,32.0],[41.91,32.23],[43.2,32.35],[46,32.47]];
const risoRedDot=[[0,32.0],[0.17,31.18],[0.49,30.71],[0.81,30.24],[1.13,30.01],[1.32,29.89],[1.45,30.59],[1.65,30.83],[1.84,30.83],[2.03,31.53],[2.29,31.29],[2.8,31.18],[3.32,31.41],[3.71,31.22],[4.09,31.41],[4.48,31.06],[4.73,30.71],[5.06,30.13],[5.31,30.71],[5.63,30.83],[5.96,30.48],[6.28,30.59],[6.66,30.71],[6.92,30.48],[7.07,30.01],[7.18,29.42],[7.44,29.07],[7.63,29.66],[7.82,30.71],[8.08,30.95],[8.34,31.06],[8.72,30.59],[8.98,30.36],[9.49,30.24],[10.01,30.59],[10.78,30.71],[11.55,30.95],[12.07,31.18],[12.71,31.46],[13.35,31.29],[14.51,31.18],[15.41,31.29],[16.7,30.83],[17.34,30.48],[17.99,30.83],[19.27,30.59],[20.56,30.83],[21.84,31.06],[23.13,31.18],[24.42,31.06],[25.32,31.06],[25.51,30.13],[25.71,30.59],[25.97,30.36],[26.22,30.83],[26.48,29.89],[26.73,29.07],[26.99,29.66],[27.18,31.06],[27.31,31.18],[27.44,29.31],[27.63,25.57],[27.76,27.2],[27.96,29.54],[28.15,28.84],[28.28,26.73],[28.41,28.6],[28.6,27.9],[28.79,26.27],[28.99,27.2],[29.12,25.09],[29.24,23.93],[29.37,26.27],[29.5,25.33],[29.69,24.63],[29.95,23.46],[30.27,22.88],[30.53,23.34],[30.72,23.23],[31.11,23.34],[31.62,24.05],[32.13,25.68],[32.39,27.67],[32.52,28.6],[32.72,27.2],[32.85,25.68],[32.97,27.2],[33.1,28.6],[33.23,27.2],[33.36,24.63],[33.55,25.79],[33.74,26.27],[33.87,26.73],[34.07,28.84],[34.32,29.07],[34.58,29.77],[34.97,29.07],[35.23,28.6],[35.61,29.42],[36.12,29.89],[36.38,29.77],[36.77,30.48],[37.03,31.06],[37.28,30.01],[37.54,30.48],[37.8,30.36],[38.06,30.48],[38.38,30.83],[38.7,31.18],[39.08,31.76],[39.34,31.53],[39.6,31.65],[39.99,32.23],[40.63,32.58],[41.27,32.93],[41.91,33.17],[42.56,33.05],[43.2,33.28],[43.84,33.05],[44.49,33.05],[45.13,32.58],[46,32.58]];
const risoPink=[[0,29.49],[0.49,29.72],[1.39,28.96],[2.42,29.03],[3.06,29.26],[3.96,29.42],[4.35,29.26],[4.99,28.96],[5.63,28.6],[6.28,28.72],[6.66,28.6],[7.18,28.72],[7.95,29.07],[8.6,29.96],[9.49,30.13],[10.78,30.29],[12.07,30.36],[14.51,30.29],[15.41,30.24],[17.34,30.13],[20.04,29.96],[21.84,30.01],[23.13,30.48],[24.16,30.66],[24.42,30.36],[24.68,28.84],[24.87,29.07],[25.06,27.67],[25.19,26.85],[25.38,27.44],[25.51,27.2],[25.71,26.15],[25.97,26.73],[26.22,26.27],[26.48,25.33],[26.67,25.21],[26.86,26.27],[27.25,26.73],[27.63,26.97],[27.96,27.09],[28.28,26.73],[28.66,26.38],[28.92,26.03],[29.57,25.91],[30.72,25.91],[31.62,25.85],[32.91,26.15],[33.81,26.27],[34.2,26.62],[34.71,27.32],[35.23,28.02],[35.87,27.56],[36.64,27.09],[37.03,27.32],[38.06,27.56],[38.7,27.67],[39.34,28.37],[39.99,29.19],[40.63,29.31],[41.27,29.66],[42.56,29.96],[43.84,29.96],[45.0,30.13]];

// ---------------- RENDER ----------------
const svg = d3.select('#c');
const day0 = Date.UTC(2006,4,15);
const D = t => new Date(day0 + t*864e5);
const fmt = d3.utcFormat('%b %d');
const sampled = (vals) => vals.map((v,i)=>[i*riceSampleStep, v]);

const riceRed = riceRedA.concat(riceRedZoom, riceRedB);
const riceDot = riceDotA.concat(riceDotZoom, riceDotB);
const ricePink = ricePinkA.concat(ricePinkZoom, ricePinkB);

const ST = {
  pink:{c:'#ffc0cb',w:2.2},
  cyan:{c:'#00e5e5',w:2},
  blueDot:{c:'#2020ff',w:2,dash:'0.5,5'},
  blue:{c:'#0000ff',w:2.1},
  redDot:{c:'#ff2a2a',w:2,dash:'0.5,4.5'},
  red:{c:'#ff0000',w:1.8}
};
const GREEN = '#1ee61e';
const tickFont = 'DejaVu Sans, sans-serif';

const xM = d3.scaleUtc().domain([D(0), D(46)]).range([54, 1246]);

let clipId = 0;
function drawPanel(o){
  const g = svg.append('g');
  const y = d3.scaleLinear().domain(o.dom).range([o.bottom, o.top]);
  const x = o.x;
  const [x0,x1] = x.range();
  const id = 'clip'+(clipId++);
  svg.append('clipPath').attr('id',id).append('rect')
    .attr('x',x0).attr('y',o.top).attr('width',x1-x0).attr('height',o.bottom-o.top);
  const inner = g.append('g').attr('clip-path',`url(#${id})`);
  regionStart.forEach((s,i)=>{
    const a = Math.max(x(D(s)), x0), b = Math.min(x(D(regionEnd[i])), x1);
    if (b > a) inner.append('rect').attr('x',a).attr('y',o.top).attr('width',b-a)
      .attr('height',o.bottom-o.top).attr('fill', i===0?'#e5e5e5':'#f0f0f0');
  });
  o.yTicks.forEach(v=>{
    inner.append('line').attr('x1',x0).attr('x2',x1).attr('y1',y(v)).attr('y2',y(v))
      .attr('stroke','#7a7a7a').attr('stroke-width',1).attr('stroke-dasharray','1,3');
  });
  o.xTicks.forEach(t=>{
    inner.append('line').attr('x1',x(D(t))).attr('x2',x(D(t))).attr('y1',o.top).attr('y2',o.bottom)
      .attr('stroke','#7a7a7a').attr('stroke-width',1).attr('stroke-dasharray','1,3');
  });
  o.series.forEach(([data,st])=>{
    const line = d3.line().x(d=>x(D(d[0]))).y(d=>y(d[1])).curve(st.curve || d3.curveMonotoneX);
    inner.append('path').datum(data).attr('d',line).attr('fill','none')
      .attr('stroke',st.c).attr('stroke-width',st.w)
      .attr('stroke-dasharray',st.dash||null)
      .attr('stroke-linecap',st.dash?'round':'butt').attr('stroke-linejoin','round');
  });
  g.append('rect').attr('x',x0).attr('y',o.top).attr('width',x1-x0).attr('height',o.bottom-o.top)
    .attr('fill','none').attr('stroke','#555').attr('stroke-width',1.5);
  const ya = d3.axisLeft(y).tickValues(o.yTicks).tickSize(0).tickPadding(o.pad);
  const yg = g.append('g').attr('transform',`translate(${x0},0)`).call(ya);
  yg.select('.domain').remove();
  yg.selectAll('text').attr('font-family',tickFont).attr('font-size',o.fs).attr('fill','#111');
  if (o.xLabels){
    const xa = d3.axisBottom(x).tickValues(o.xTicks.map(D)).tickFormat(fmt).tickSize(0).tickPadding(o.xpad);
    const xg = g.append('g').attr('transform',`translate(0,${o.bottom})`).call(xa);
    xg.select('.domain').remove();
    xg.selectAll('text').attr('font-family',tickFont).attr('font-size',o.fs).attr('fill','#111');
    g.append('text').attr('x',(x0+x1)/2).attr('y',o.yearY).attr('text-anchor','middle')
      .attr('font-family',tickFont).attr('font-size',o.fs).attr('fill','#111').text('2006');
  }
  if (o.title){
    g.append('text').attr('x',633).attr('y',o.titleY).attr('text-anchor','middle')
      .attr('font-family','DejaVu Serif, serif').attr('font-weight','bold').attr('font-size',31.5)
      .attr('fill','#111').text(o.title);
  }
  return {g,x,y,inner};
}

const jag = c => Object.assign({}, c, {curve:d3.curveLinear});

const common = {x:xM, xTicks:mainTickDays, pad:9, fs:23, xpad:6};
const rino = drawPanel(Object.assign({}, common, {top:69.3,bottom:269,dom:[20,34],yTicks:salTicks,title:'rino',titleY:51,
  series:[[rinoPink,ST.pink],[rinoCyan,ST.cyan],[rinoBlueDot,ST.blueDot],[rinoBlue,ST.blue],[rinoRedDot,ST.redDot],[rinoRed,ST.red]]}));
const rice = drawPanel(Object.assign({}, common, {top:314.3,bottom:513.3,dom:[10,34],yTicks:riceTicks,title:'rice',titleY:310,
  series:[[ricePink,jag(ST.pink)],[sampled(riceCyan),ST.cyan],[riceBlueDot,ST.blueDot],[sampled(riceBlue),ST.blue],[riceDot,jag(ST.redDot)],[riceRed,jag(ST.red)]]}));
const riso = drawPanel(Object.assign({}, common, {top:560,bottom:759.3,dom:[20,34],yTicks:salTicks,title:'riso',titleY:549,xLabels:true,yearY:810,
  series:[[risoPink,ST.pink],[risoCyan,ST.cyan],[risoBlueDot,ST.blueDot],[risoBlue,ST.blue],[risoRedDot,ST.redDot],[risoRed,ST.red]]}));

regionLabels.forEach((lab,i)=>{
  svg.append('text').attr('x',xM(D((regionStart[i]+regionEnd[i])/2))).attr('y',rino.y(21.4))
    .attr('text-anchor','middle').attr('font-family','Liberation Serif, serif').attr('font-size',44)
    .attr('fill','#111').text(lab);
});

const xI = d3.scaleUtc().domain([D(zoomT[0]), D(zoomT[1])]).range([47, 1220]);
const inset = drawPanel({x:xI, xTicks:insetTickDays, pad:5, fs:22, xpad:5, top:897, bottom:1086, dom:zoomV,
  yTicks:insetTicks, xLabels:true, yearY:1137,
  series:[[ricePink,{c:'#ffc0cb',w:2.4}],[riceDot,{c:'#ff2a2a',w:2,dash:'0.5,4.5'}],[riceRed,{c:'#ff0000',w:2}]]});

const bx0 = xM(D(zoomT[0]))+4, bx1 = xM(D(zoomT[1])), by0 = rice.y(zoomV[1]), by1 = rice.y(zoomV[0]);
svg.append('rect').attr('x',bx0).attr('y',by0).attr('width',bx1-bx0).attr('height',by1-by0)
  .attr('rx',13).attr('ry',13).attr('fill','none').attr('stroke',GREEN).attr('stroke-width',5);
svg.append('rect').attr('x',xI(D(zoomT[0]))).attr('y',inset.y(zoomV[1])+3)
  .attr('width',xI(D(zoomT[1]))-xI(D(zoomT[0]))).attr('height',inset.y(zoomV[0])-inset.y(zoomV[1])-3)
  .attr('fill','none').attr('stroke',GREEN).attr('stroke-width',5.5);
svg.append('line').attr('x1',xM(D(connTop[0]))).attr('y1',rice.y(connTop[1]))
  .attr('x2',xI(D(connBottom[0]))).attr('y2',inset.y(connBottom[1]))
  .attr('stroke',GREEN).attr('stroke-width',5);

svg.append('text').attr('x',32).attr('y',37).attr('font-family','DejaVu Serif, serif')
  .attr('font-weight','bold').attr('font-size',32.5).attr('fill','#111').text('Salinity [‰]');
</script>
</body></html>
